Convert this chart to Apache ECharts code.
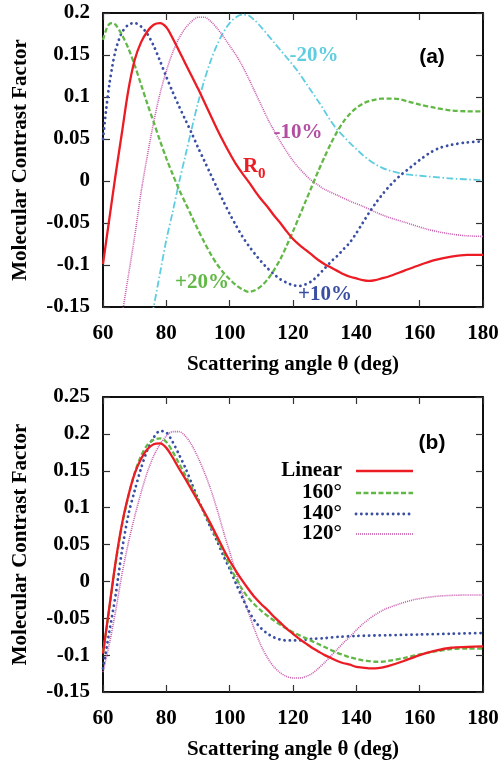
<!DOCTYPE html>
<html><head><meta charset="utf-8">
<script src="https://cdn.jsdelivr.net/npm/echarts@6/dist/echarts.min.js"></script>
<style>html,body{margin:0;padding:0;background:#fff}#c{width:504px;height:761px}</style>
</head><body><div id="c"></div>
<script>
// ---------- Panel (a) data ----------
const thetaR0 = [60,62,64,66,68,70,72,74,76,78,80,82,84,86,88,90,92,94,96,98,100,102,104,106,108,110,112,114,116,118,120,122,124,126,128,130,132,134,136,138,140,142,144,146,148,150,155,160,165,170,175,180];
const valR0 = [-0.099,-0.045,0.008,0.058,0.108,0.144,0.165,0.178,0.186,0.188,0.183,0.170,0.155,0.14,0.125,0.11,0.094,0.078,0.062,0.047,0.033,0.02,0.009,-0.001,-0.012,-0.022,-0.031,-0.041,-0.05,-0.06,-0.069,-0.076,-0.082,-0.088,-0.094,-0.099,-0.103,-0.107,-0.111,-0.114,-0.116,-0.118,-0.119,-0.118,-0.116,-0.114,-0.107,-0.1,-0.094,-0.09,-0.088,-0.088];

const thetaP20 = [60,61,62,63,64,66,68,70,72,74,76,78,80,82,84,86,88,90,92,94,96,98,100,102,104,106,108,110,112,114,116,118,120,122,124,126,128,130,132,134,136,138,140,142,144,146,148,150,152,154,156,158,160,165,170,175,180];
const valP20 = [0.168,0.18,0.187,0.188,0.186,0.174,0.158,0.138,0.115,0.092,0.07,0.048,0.027,0.008,-0.01,-0.026,-0.042,-0.058,-0.073,-0.087,-0.099,-0.109,-0.117,-0.124,-0.129,-0.132,-0.13,-0.125,-0.117,-0.106,-0.093,-0.077,-0.06,-0.042,-0.024,-0.006,0.012,0.029,0.045,0.059,0.071,0.08,0.087,0.092,0.095,0.097,0.098,0.098,0.098,0.097,0.095,0.093,0.091,0.087,0.084,0.083,0.083];

const thetaP10 = [60,61,62,63,64,65,66,68,70,72,74,76,78,80,82,84,86,88,90,92,94,96,98,100,102,104,106,108,110,112,114,116,118,120,122,124,126,128,130,132,134,136,138,140,142,144,146,148,150,152,154,156,158,160,163,166,170,175,180];
const valP10 = [0.05,0.085,0.115,0.138,0.156,0.168,0.177,0.186,0.188,0.184,0.175,0.161,0.143,0.124,0.106,0.089,0.073,0.057,0.04,0.024,0.008,-0.008,-0.024,-0.039,-0.053,-0.066,-0.077,-0.087,-0.096,-0.104,-0.111,-0.117,-0.121,-0.124,-0.125,-0.123,-0.119,-0.112,-0.104,-0.096,-0.089,-0.081,-0.073,-0.062,-0.05,-0.038,-0.027,-0.017,-0.008,0.0,0.007,0.013,0.019,0.025,0.033,0.039,0.043,0.046,0.047];

const thetaM10 = [64,66,68,70,72,74,76,78,80,82,84,86,88,90,92,94,96,98,100,102,104,106,108,110,112,114,116,118,120,122,124,126,128,130,134,138,142,146,150,156,162,168,174,180];
const valM10 = [-0.21,-0.16,-0.113,-0.066,-0.014,0.03,0.07,0.104,0.131,0.153,0.17,0.182,0.19,0.195,0.195,0.19,0.182,0.172,0.161,0.15,0.137,0.122,0.106,0.09,0.074,0.06,0.047,0.035,0.024,0.015,0.007,0.0,-0.005,-0.01,-0.017,-0.024,-0.03,-0.037,-0.043,-0.05,-0.057,-0.062,-0.065,-0.066];

const thetaM20 = [74,76,78,80,82,84,86,88,90,92,94,96,98,100,102,104,106,108,110,112,114,116,118,120,122,124,126,128,130,132,134,136,138,140,142,144,146,148,150,154,158,164,170,180];
const valM20 = [-0.19,-0.15,-0.11,-0.07,-0.037,-0.002,0.03,0.062,0.093,0.12,0.143,0.162,0.177,0.188,0.195,0.198,0.197,0.191,0.183,0.174,0.165,0.156,0.147,0.138,0.128,0.117,0.106,0.095,0.083,0.071,0.061,0.053,0.045,0.038,0.031,0.025,0.02,0.016,0.013,0.009,0.007,0.005,0.003,0.001];

// ---------- Panel (b) data ----------
const thetaLin = [60,62,64,66,68,70,72,74,76,78,80,82,84,86,88,90,92,94,96,98,100,102,104,106,108,110,112,114,116,118,120,122,124,126,128,130,132,134,136,138,140,142,144,146,148,150,155,160,165,170,175,180];
const valLin = [-0.098,-0.035,0.027,0.078,0.116,0.146,0.166,0.179,0.186,0.187,0.181,0.168,0.153,0.139,0.124,0.109,0.094,0.078,0.061,0.044,0.028,0.014,0.001,-0.011,-0.022,-0.031,-0.039,-0.048,-0.056,-0.064,-0.071,-0.078,-0.084,-0.09,-0.095,-0.1,-0.104,-0.108,-0.111,-0.113,-0.116,-0.117,-0.118,-0.118,-0.117,-0.115,-0.108,-0.1,-0.094,-0.09,-0.089,-0.088];

const theta160 = thetaLin;
const val160 = [-0.097,-0.037,0.025,0.076,0.115,0.147,0.17,0.185,0.192,0.194,0.189,0.176,0.16,0.144,0.128,0.111,0.093,0.075,0.058,0.04,0.021,0.004,-0.011,-0.023,-0.032,-0.04,-0.047,-0.053,-0.059,-0.064,-0.069,-0.073,-0.077,-0.081,-0.085,-0.089,-0.093,-0.097,-0.1,-0.103,-0.105,-0.107,-0.108,-0.109,-0.109,-0.108,-0.104,-0.099,-0.095,-0.092,-0.091,-0.091];

const theta140 = [60,62,64,66,68,70,72,74,76,78,80,82,84,86,88,90,92,94,96,98,100,102,104,106,108,110,112,114,116,118,120,122,124,126,130,135,140,150,160,170,180];
const val140 = [-0.118,-0.068,-0.018,0.042,0.09,0.123,0.153,0.178,0.195,0.204,0.202,0.189,0.172,0.154,0.133,0.112,0.092,0.073,0.055,0.035,0.017,-0.003,-0.022,-0.04,-0.054,-0.064,-0.071,-0.076,-0.079,-0.08,-0.08,-0.08,-0.079,-0.078,-0.077,-0.075,-0.074,-0.073,-0.072,-0.071,-0.07];

const theta120 = [60,62,64,66,68,70,72,74,76,78,80,82,84,86,88,90,92,94,96,98,100,102,104,106,108,110,112,114,116,118,120,122,124,126,128,130,132,134,136,138,140,142,144,146,148,150,154,158,162,166,170,175,180];
const val120 = [-0.123,-0.085,-0.04,0.01,0.052,0.088,0.12,0.148,0.17,0.186,0.197,0.203,0.203,0.197,0.185,0.168,0.148,0.125,0.098,0.068,0.04,0.012,-0.017,-0.043,-0.067,-0.088,-0.104,-0.116,-0.124,-0.129,-0.131,-0.131,-0.129,-0.125,-0.118,-0.11,-0.101,-0.092,-0.083,-0.075,-0.066,-0.058,-0.051,-0.045,-0.04,-0.036,-0.03,-0.025,-0.022,-0.02,-0.019,-0.0185,-0.0185];

// ---------- labels ----------
const xTitle = 'Scattering angle θ (deg)';
const yTitle = 'Molecular Contrast Factor';
const legendNames = ['Linear','160°','140°','120°'];

const SERIF = '"Liberation Serif","Times New Roman",serif';
const SANS = '"Liberation Sans",Arial,sans-serif';
const C = {red:'#ec1c24', green:'#62b846', blue:'#3a4fa3', magenta:'#c85aae', cyan:'#5ecde0'};
const FS = 21;

const zip = (xs, ys) => xs.map((x, i) => [x, ys[i]]);
const fmt = v => String(+(+v).toFixed(2));

function xAxes(g) {
  const base = {type:'value', gridIndex:g, min:60, max:180, interval:20, splitLine:{show:false},
    axisLine:{show:true, onZero:false, lineStyle:{color:'#000', width:1.5}},
    axisTick:{show:true, inside:true, length:7, lineStyle:{color:'#333', width:1.2}}};
  return [
    Object.assign({}, base, {position:'bottom', name:xTitle, nameLocation:'middle', nameGap:47,
      nameTextStyle:{fontFamily:SERIF, fontWeight:'bold', fontSize:FS, color:'#000'},
      axisLabel:{margin:16, fontFamily:SERIF, fontWeight:'bold', fontSize:FS, color:'#000', showMinLabel:true, showMaxLabel:true}}),
    Object.assign({}, base, {position:'top', axisLabel:{show:false}})
  ];
}
function yAxes(g, min, max) {
  const base = {type:'value', gridIndex:g, min:min, max:max, interval:0.05, splitLine:{show:false},
    axisLine:{show:true, onZero:false, lineStyle:{color:'#000', width:1.5}},
    axisTick:{show:true, inside:true, length:7, lineStyle:{color:'#333', width:1.2}}};
  return [
    Object.assign({}, base, {position:'left', name:yTitle, nameLocation:'middle', nameGap:72, nameRotate:90,
      nameTextStyle:{fontFamily:SERIF, fontWeight:'bold', fontSize:FS, color:'#000'},
      axisLabel:{margin:13, fontFamily:SERIF, fontWeight:'bold', fontSize:FS, color:'#000', formatter:fmt, showMinLabel:true, showMaxLabel:true}}),
    Object.assign({}, base, {position:'right', axisLabel:{show:false}})
  ];
}
function line(name, xs, ys, color, width, dash, ai, cap) {
  return {name:name, type:'line', xAxisIndex:ai, yAxisIndex:ai, data:zip(xs, ys), showSymbol:false, symbol:'none',
    smooth:0.3, clip:true, lineStyle:{color:color, width:width, type:dash, cap:cap || 'butt'}, itemStyle:{color:color}, silent:true};
}

const DASH = [5,2.5], DOT = [0.1,5.2], FINE = [1,1], DASHDOT = [7,2.5,1.5,2.5];

const series = [
  line('-20%', thetaM20, valM20, C.cyan, 1.8, DASHDOT, 0),
  line('-10%', thetaM10, valM10, C.magenta, 1.6, FINE, 0),
  line('+10%', thetaP10, valP10, C.blue, 2.8, DOT, 0, 'round'),
  line('+20%', thetaP20, valP20, C.green, 2.3, DASH, 0),
  line('R0', thetaR0, valR0, C.red, 2.3, 'solid', 0),
  line('120°', theta120, val120, C.magenta, 1.6, FINE, 2),
  line('140°', theta140, val140, C.blue, 2.8, DOT, 2, 'round'),
  line('160°', theta160, val160, C.green, 2.3, DASH, 2),
  line('Linear', thetaLin, valLin, C.red, 2.3, 'solid', 2)
];

const txt = (text, x, y, color, font, align) => ({type:'text', x:x, y:y, silent:true,
  style:{text:text, fill:color, font:font, align:align || 'center', verticalAlign:'middle'}});
const BF = 'bold ' + FS + 'px ' + SERIF;
const legendY = [471, 493, 514, 534];
const legendStyle = [[C.red,2.3,null,'butt'],[C.green,2.3,DASH,'butt'],[C.blue,2.8,DOT,'round'],[C.magenta,1.6,FINE,'butt']];
const graphics = [
  txt('-20%', 314, 56, '#5ecde0', BF),
  txt('-10%', 298, 133, '#b24fa3', BF),
  txt('R', 243, 167, C.red, BF, 'left'),
  txt('0', 258, 174, C.red, 'bold 15px ' + SERIF, 'left'),
  txt('+20%', 202, 283, C.green, BF),
  txt('+10%', 325, 295, C.blue, BF),
  txt('(a)', 432, 57, '#000', 'bold 21px ' + SANS),
  txt('(b)', 432, 443, '#000', 'bold 21px ' + SANS)
];
legendNames.forEach((n, i) => {
  graphics.push(txt(n, 342, legendY[i], '#000', BF, 'right'));
  const s = legendStyle[i];
  graphics.push({type:'line', silent:true, shape:{x1:356, y1:legendY[i], x2:413, y2:legendY[i]},
    style:{stroke:s[0], lineWidth:s[1], lineDash:s[2], lineCap:s[3]}});
});

const chart = echarts.init(document.getElementById('c'), null, {renderer:'canvas'});
chart.setOption({
  animation:false,
  backgroundColor:'#fff',
  grid:[
    {left:103, top:13, width:380, height:294, show:true, borderColor:'#000', borderWidth:1.5, backgroundColor:'transparent'},
    {left:103, top:397, width:380, height:295, show:true, borderColor:'#000', borderWidth:1.5, backgroundColor:'transparent'}
  ],
  xAxis:[...xAxes(0), ...xAxes(1)],
  yAxis:[...yAxes(0, -0.15, 0.2), ...yAxes(1, -0.15, 0.25)],
  series:series,
  graphic:graphics
});
</script></body></html>
